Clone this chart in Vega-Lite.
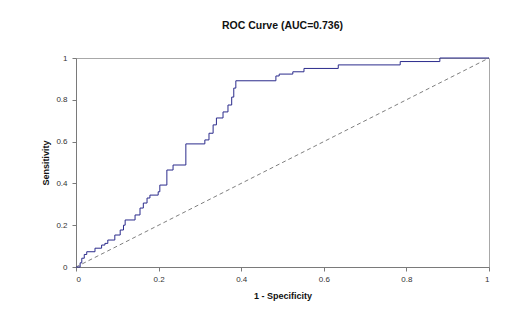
{
  "$schema": "https://vega.github.io/schema/vega-lite/v6.json",
  "width": 413,
  "height": 209,
  "autosize": "none",
  "padding": {"left": 76, "top": 58, "right": 17, "bottom": 53},
  "background": "white",
  "config": {
    "font": "Liberation Sans",
    "view": {"stroke": "#a8a8a8", "strokeWidth": 1},
    "axis": {
      "grid": false,
      "domainColor": "#7a7a7a",
      "tickColor": "#7a7a7a",
      "tickSize": 4,
      "labelFontSize": 8,
      "labelColor": "#333333",
      "titleFontSize": 9,
      "titleFontWeight": "bold",
      "titleColor": "#111111",
      "format": "~g"
    }
  },
  "title": {
    "text": "ROC Curve (AUC=0.736)",
    "fontSize": 10.5,
    "fontWeight": "bold",
    "color": "#111111",
    "offset": 23,
    "anchor": "middle"
  },
  "datasets": {
    "roc": [
      {"fpr": 0, "tpr": 0},
      {"fpr": 0.01, "tpr": 0.02},
      {"fpr": 0.014, "tpr": 0.042},
      {"fpr": 0.02, "tpr": 0.06},
      {"fpr": 0.026, "tpr": 0.073},
      {"fpr": 0.046, "tpr": 0.09},
      {"fpr": 0.062, "tpr": 0.105},
      {"fpr": 0.07, "tpr": 0.113},
      {"fpr": 0.077, "tpr": 0.129},
      {"fpr": 0.094, "tpr": 0.153},
      {"fpr": 0.107, "tpr": 0.177},
      {"fpr": 0.115, "tpr": 0.2},
      {"fpr": 0.119, "tpr": 0.225},
      {"fpr": 0.143, "tpr": 0.249},
      {"fpr": 0.155, "tpr": 0.282},
      {"fpr": 0.163, "tpr": 0.306},
      {"fpr": 0.172, "tpr": 0.33},
      {"fpr": 0.179, "tpr": 0.344},
      {"fpr": 0.199, "tpr": 0.36},
      {"fpr": 0.203, "tpr": 0.392},
      {"fpr": 0.22, "tpr": 0.464},
      {"fpr": 0.235, "tpr": 0.488},
      {"fpr": 0.266, "tpr": 0.589},
      {"fpr": 0.312, "tpr": 0.608},
      {"fpr": 0.322, "tpr": 0.64},
      {"fpr": 0.332, "tpr": 0.68},
      {"fpr": 0.34, "tpr": 0.713},
      {"fpr": 0.356, "tpr": 0.742},
      {"fpr": 0.368, "tpr": 0.775},
      {"fpr": 0.377, "tpr": 0.813},
      {"fpr": 0.382, "tpr": 0.856},
      {"fpr": 0.387, "tpr": 0.891},
      {"fpr": 0.484, "tpr": 0.914},
      {"fpr": 0.492, "tpr": 0.923},
      {"fpr": 0.525, "tpr": 0.934},
      {"fpr": 0.552, "tpr": 0.95},
      {"fpr": 0.635, "tpr": 0.967},
      {"fpr": 0.785, "tpr": 0.983},
      {"fpr": 0.881, "tpr": 1.0},
      {"fpr": 1, "tpr": 1.0}
    ],
    "diag": [
      {"fpr": 0, "tpr": 0},
      {"fpr": 1, "tpr": 1}
    ]
  },
  "layer": [
    {
      "data": {"name": "diag"},
      "mark": {"type": "line", "color": "#7f7f7f", "strokeWidth": 1, "strokeDash": [4, 3]},
      "encoding": {
        "x": {"field": "fpr", "type": "quantitative"},
        "y": {"field": "tpr", "type": "quantitative"}
      }
    },
    {
      "data": {"name": "roc"},
      "mark": {"type": "line", "color": "#2b2b8c", "strokeWidth": 1, "interpolate": "step-after"},
      "encoding": {
        "x": {
          "field": "fpr",
          "type": "quantitative",
          "scale": {"domain": [0, 1], "nice": false},
          "axis": {"values": [0, 0.2, 0.4, 0.6, 0.8, 1], "title": "1 - Specificity", "labelPadding": 4, "titlePadding": 8}
        },
        "y": {
          "field": "tpr",
          "type": "quantitative",
          "scale": {"domain": [0, 1], "nice": false},
          "axis": {"values": [0, 0.1, 0.2, 0.3, 0.4, 0.5, 0.6, 0.7, 0.8, 0.9, 1], "title": "Sensitivity", "labelPadding": 5, "titlePadding": 5}
        }
      }
    }
  ]
}
